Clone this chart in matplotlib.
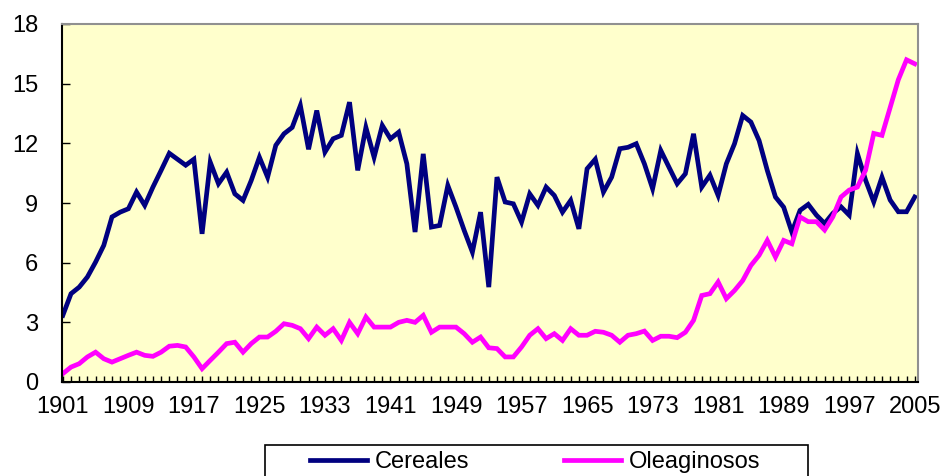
import numpy as np
import matplotlib
matplotlib.use("Agg")
import matplotlib.pyplot as plt
from matplotlib.patches import Rectangle

# Años y series
years = list(range(1901, 2006))

cereales = [
    3.35, 4.44, 4.77, 5.28, 6.03, 6.87, 8.3, 8.54, 8.71, 9.55,
    8.88, 9.8, 10.64, 11.5, 11.2, 10.9, 11.2, 7.45, 11.05, 9.97,
    10.55, 9.46, 9.13, 10.13, 11.3, 10.3, 11.9, 12.48, 12.8, 13.9,
    11.7, 13.65, 11.56, 12.23, 12.4, 14.07, 10.64, 12.8, 11.3, 12.9,
    12.23, 12.56, 10.97, 7.54, 11.47, 7.79, 7.87, 9.88, 8.79, 7.62,
    6.53, 8.54, 4.77, 10.3, 9.05, 8.96, 8.04, 9.46, 8.88, 9.8,
    9.38, 8.54, 9.13, 7.7, 10.72, 11.2, 9.55, 10.3, 11.73, 11.8,
    11.98, 10.97, 9.72, 11.64, 10.8, 9.97, 10.47, 12.48, 9.8, 10.4,
    9.38, 10.97, 11.98, 13.4, 13.07, 12.14, 10.64, 9.3, 8.79, 7.54,
    8.63, 8.93, 8.39, 7.97, 8.48, 8.81, 8.39, 11.49, 10.15, 9.06,
    10.3, 9.15, 8.56, 8.56, 9.3,
]

oleaginosos = [
    0.42, 0.75, 0.92, 1.26, 1.5, 1.17, 1.0, 1.17, 1.34, 1.5,
    1.34, 1.29, 1.5, 1.8, 1.84, 1.76, 1.26, 0.67, 1.09, 1.5,
    1.93, 2.0, 1.5, 1.93, 2.26, 2.26, 2.55, 2.93, 2.85, 2.68,
    2.18, 2.76, 2.35, 2.68, 2.09, 3.0, 2.43, 3.27, 2.76, 2.76,
    2.76, 3.0, 3.1, 3.0, 3.35, 2.5, 2.76, 2.76, 2.76, 2.43,
    2.0, 2.26, 1.72, 1.68, 1.26, 1.26, 1.76, 2.35, 2.68, 2.18,
    2.43, 2.09, 2.68, 2.35, 2.35, 2.55, 2.5, 2.35, 2.0, 2.35,
    2.43, 2.56, 2.09, 2.3, 2.3, 2.23, 2.5, 3.1, 4.35, 4.44,
    5.03, 4.19, 4.6, 5.1, 5.86, 6.37, 7.12, 6.28, 7.12, 6.95,
    8.3, 8.06, 8.06, 7.64, 8.3, 9.3, 9.65, 9.8, 10.65, 12.5,
    12.4, 13.8, 15.2, 16.2, 16.0,
]

label_years = list(range(1901, 2006, 8))
yticks = [0, 3, 6, 9, 12, 15, 18]

fs = 17
plt.rcParams["font.family"] = ["Liberation Sans", "DejaVu Sans"]

fig = plt.figure(figsize=(9.44, 4.76), dpi=100)
ax = fig.add_axes([62 / 944, 94 / 476, 856 / 944, 358 / 476])
ax.set_facecolor("#FFFFCC")

ax.plot(years, cereales, color="#000080", lw=3.4, label="Cereales", solid_joinstyle="miter")
ax.plot(years, oleaginosos, color="#FF00FF", lw=3.4, label="Oleaginosos", solid_joinstyle="miter")

ax.set_xlim(1900.9, 2005.4)
ax.set_ylim(0, 18)
ax.set_yticks(yticks)
ax.set_xticks(years, minor=True)
ax.set_xticks(label_years)
ax.tick_params(axis="y", direction="in", length=6, width=1, pad=17, labelsize=fs)
ax.tick_params(axis="x", which="both", direction="in", length=4, width=1, pad=10, labelsize=fs)

for s in ["top", "right"]:
    ax.spines[s].set_color("#909090")
    ax.spines[s].set_linewidth(1.5)
for s in ["left", "bottom"]:
    ax.spines[s].set_color("black")
    ax.spines[s].set_linewidth(1.5)

# recuadro de la leyenda (cortado por el borde inferior)
fig.patches.append(Rectangle((265 / 944, -0.02), 543 / 944, 0.02 + 31 / 476,
                             transform=fig.transFigure, fill=False,
                             edgecolor="black", lw=1.2))
leg = fig.legend(loc="center left", bbox_to_anchor=(310 / 944, 1 - 462 / 476), ncol=2,
                 frameon=False, fontsize=fs,
                 handlelength=2.4, handletextpad=0.35, columnspacing=4.0,
                 borderpad=0, borderaxespad=0)

fig.savefig("out.png", dpi=100, facecolor="white")
